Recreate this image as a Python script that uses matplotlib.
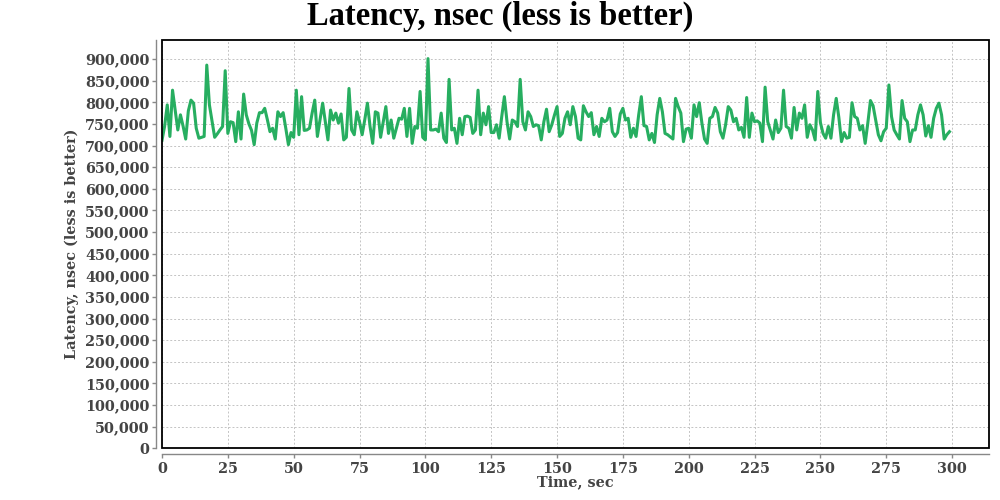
import matplotlib
matplotlib.use('Agg')
import matplotlib.pyplot as plt
from matplotlib.ticker import MultipleLocator, FuncFormatter
from matplotlib.patches import Rectangle

title = "Latency, nsec (less is better)"
x_label = "Time, sec"
y_label = "Latency, nsec (less is better)"

times = list(range(300))
latency = [
    712000, 745000, 794000, 721000, 828000, 782000, 736000, 771000, 745000, 715000,
    780000, 805000, 798000, 740000, 717000, 719000, 721000, 886000, 794000, 757000,
    719000, 727000, 736000, 744000, 873000, 728000, 755000, 753000, 709000, 778000,
    715000, 819000, 771000, 750000, 735000, 702000, 752000, 776000, 776000, 786000,
    760000, 732000, 740000, 715000, 778000, 767000, 776000, 740000, 702000, 730000,
    719000, 828000, 725000, 813000, 735000, 736000, 740000, 775000, 805000, 721000,
    760000, 798000, 755000, 713000, 782000, 759000, 775000, 752000, 773000, 713000,
    719000, 832000, 736000, 725000, 778000, 755000, 725000, 760000, 798000, 744000,
    705000, 778000, 775000, 719000, 755000, 790000, 728000, 759000, 717000, 740000,
    763000, 761000, 786000, 721000, 786000, 705000, 744000, 740000, 825000, 719000,
    713000, 901000, 736000, 736000, 738000, 732000, 775000, 717000, 707000, 853000,
    736000, 740000, 705000, 763000, 725000, 767000, 768000, 765000, 728000, 736000,
    828000, 725000, 775000, 748000, 790000, 730000, 730000, 748000, 717000, 767000,
    813000, 755000, 715000, 759000, 755000, 744000, 853000, 755000, 736000, 778000,
    767000, 744000, 748000, 746000, 713000, 755000, 784000, 732000, 748000, 770000,
    790000, 721000, 728000, 763000, 778000, 748000, 790000, 767000, 717000, 713000,
    792000, 778000, 767000, 776000, 725000, 744000, 721000, 763000, 755000, 759000,
    786000, 732000, 721000, 730000, 773000, 786000, 759000, 763000, 719000, 740000,
    721000, 771000, 813000, 746000, 744000, 713000, 728000, 707000, 771000, 809000,
    778000, 728000, 725000, 720000, 715000, 809000, 790000, 775000, 709000, 738000,
    740000, 717000, 794000, 767000, 799000, 752000, 715000, 705000, 763000, 767000,
    788000, 775000, 732000, 717000, 748000, 790000, 782000, 755000, 763000, 736000,
    742000, 719000, 811000, 719000, 775000, 755000, 757000, 752000, 709000, 835000,
    755000, 735000, 715000, 759000, 730000, 740000, 828000, 744000, 740000, 717000,
    788000, 736000, 775000, 763000, 794000, 719000, 748000, 736000, 713000, 825000,
    753000, 728000, 717000, 744000, 717000, 771000, 809000, 765000, 709000, 730000,
    717000, 719000, 799000, 767000, 763000, 736000, 746000, 705000, 752000, 804000,
    792000, 759000, 725000, 711000, 732000, 740000, 840000, 767000, 736000, 725000,
    715000, 804000, 763000, 755000, 709000, 736000, 736000, 771000, 794000, 771000,
    722000, 746000, 719000, 763000, 786000, 798000, 771000, 715000, 725000, 732000,
]

LINE = '#27ae60'
TXT = '#444444'
AXC = '#888888'
SERIF = ['DejaVu Serif']

fig = plt.figure(figsize=(10, 5), dpi=100)
fig.patch.set_facecolor('white')
ax = fig.add_axes([0.162, 0.1034, 0.8267, 0.8166])

ax.plot(times, latency, color=LINE, lw=2.2, zorder=3)

ax.set_xlim(0, 313.9)
ax.set_ylim(0, 944000)
ax.xaxis.set_major_locator(MultipleLocator(25))
ax.yaxis.set_major_locator(MultipleLocator(50000))
ax.yaxis.set_major_formatter(FuncFormatter(lambda v, p: f"{int(v):,}"))

ax.grid(True, color='#c4c4c4', lw=0.7, linestyle=(0, (2, 2)), zorder=0)

for s in ['top', 'right']:
    ax.spines[s].set_visible(False)
for s in ['left', 'bottom']:
    ax.spines[s].set_position(('outward', 4))
    ax.spines[s].set_color(AXC)
    ax.spines[s].set_linewidth(1.0)

ax.add_patch(Rectangle((0, 0), 1, 1, transform=ax.transAxes, fill=False,
                       edgecolor='black', lw=1.3, clip_on=False, zorder=5))

ax.tick_params(axis='both', colors=AXC, length=3, width=1.0)
ax.tick_params(axis='y', pad=2)
ax.tick_params(axis='x', pad=3)
for lab in ax.get_xticklabels() + ax.get_yticklabels():
    lab.set_family(SERIF)
    lab.set_fontweight('bold')
    lab.set_fontsize(10.4)
    lab.set_color(TXT)

fig.text(0.5, 1 - 25 / 500, title, ha='center', va='baseline',
         family=['Liberation Serif'], fontweight='bold', fontsize=23.5, color='black')
fig.text(575 / 1000, 1 - 482 / 500, x_label, ha='center', va='center',
         family=SERIF, fontweight='bold', fontsize=10.4, color=TXT)
fig.text(72 / 1000, 1 - 244 / 500, y_label, ha='center', va='center', rotation=90,
         family=SERIF, fontweight='bold', fontsize=10.4, color=TXT)

fig.savefig('out.png', dpi=100)
